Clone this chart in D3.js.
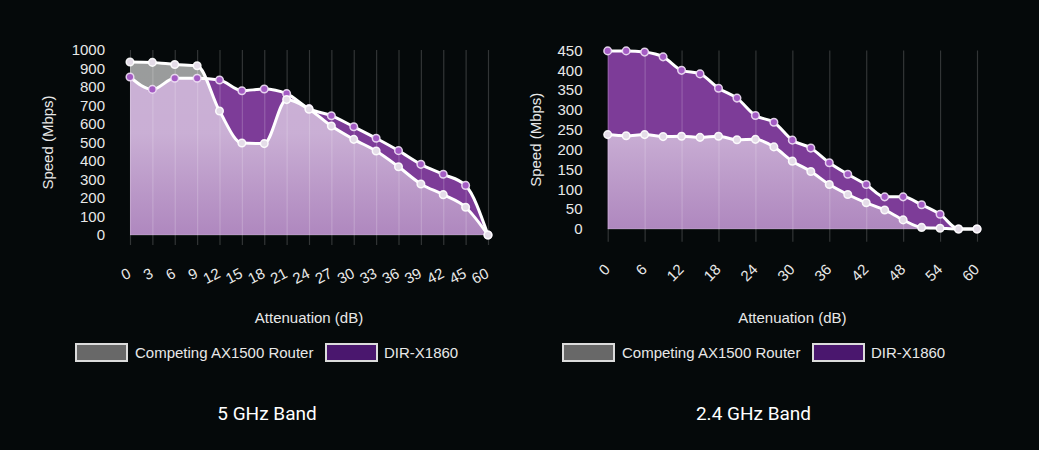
<!DOCTYPE html>
<html>
<head>
<meta charset="utf-8">
<script src="https://cdn.jsdelivr.net/npm/d3@7"></script>
<style>
    html, body { margin: 0; padding: 0; background: #05090a; }
    svg { display: block; }
    .tick text { fill: #e8e8e8; font-family: "Liberation Sans", Arial, sans-serif; font-size: 15px; }
    .axis-title, .legend-text { fill: #e8e8e8; font-family: "Liberation Sans", Arial, sans-serif; font-size: 15px; }
    .band-title { fill: #ffffff; font-family: Roboto, "Noto Sans", sans-serif; font-size: 19px; }
</style>
</head>
<body>
<div id="chart"></div>
<script>
// ---- data ----
const labels5 = ['0', '3', '6', '9', '12', '15', '18', '21', '24', '27', '30', '33', '36', '39', '42', '45', '60'];
const dir5 = [854, 787, 847, 847, 838, 780, 789, 764, 683, 645, 585, 523, 456, 382, 328, 268, 0];
const comp5 = [935, 933, 922, 915, 670, 497, 494, 732, 680, 589, 517, 454, 369, 276, 218, 150, 0];
const yTicks5 = [0, 100, 200, 300, 400, 500, 600, 700, 800, 900, 1000];

const labels24 = ['0', '3', '6', '9', '12', '15', '18', '21', '24', '27', '30', '33', '36', '39', '42', '45', '48', '51', '54', '57', '60'];
const dir24 = [449, 449, 446, 434, 400, 391, 355, 330, 286, 269, 224, 204, 167, 138, 112, 81, 81, 61, 37, 0, 0];
const comp24 = [238, 235, 238, 233, 234, 231, 234, 225, 226, 207, 171, 145, 112, 87, 66, 48, 23, 4, 2, 0, 0];
const yTicks24 = [0, 50, 100, 150, 200, 250, 300, 350, 400, 450];
const shown24 = labels24.filter((d, i) => i % 2 === 0);

const seriesNames = ['Competing AX1500 Router', 'DIR-X1860'];

const svg = d3.select('#chart').append('svg')
    .attr('width', 1039)
    .attr('height', 450);

const defs = svg.append('defs');

/**
 * Draw one band panel
 */
function drawBand(cfg) {
    const x = d3.scalePoint().domain(cfg.labels).range([cfg.left, cfg.right]);
    const y = d3.scaleLinear().domain([0, cfg.yMax]).range([cfg.bottom, cfg.top]);
    const g = svg.append('g');

    // white overlay gradient for the competing fill
    const gradId = 'fade-' + cfg.id;
    const grad = defs.append('linearGradient')
        .attr('id', gradId)
        .attr('gradientUnits', 'userSpaceOnUse')
        .attr('x1', 0).attr('x2', 0)
        .attr('y1', cfg.top).attr('y2', cfg.bottom);
    grad.append('stop').attr('offset', '0%').attr('stop-color', '#fff').attr('stop-opacity', 0.6);
    grad.append('stop').attr('offset', '45%').attr('stop-color', '#fff').attr('stop-opacity', 0.59);
    grad.append('stop').attr('offset', '100%').attr('stop-color', '#f4f0f4').attr('stop-opacity', 0.42);

    const curve = d3.curveMonotoneX;
    const area = d3.area()
        .x((d, i) => x(cfg.labels[i]))
        .y0(y(0))
        .y1(d => y(d))
        .curve(curve);
    const line = d3.line()
        .x((d, i) => x(cfg.labels[i]))
        .y(d => y(d))
        .curve(curve);

    // DIR-X1860 series
    g.append('path').datum(cfg.dir)
        .attr('d', area)
        .attr('fill', '#7d3c98');

    // competing series fill (translucent white)
    g.append('path').datum(cfg.comp)
        .attr('d', area)
        .attr('fill', `url(#${gradId})`);

    // vertical grid lines
    const xAxis = d3.axisBottom(x)
        .tickValues(cfg.shown)
        .tickSize(-(cfg.gridBottom - cfg.top))
        .tickPadding(0);
    const xg = g.append('g')
        .attr('transform', `translate(0,${cfg.gridBottom})`)
        .call(xAxis);
    xg.select('.domain').remove();
    xg.selectAll('.tick line')
        .attr('stroke', 'rgba(255,255,255,0.18)')
        .attr('stroke-width', 1.2);
    xg.selectAll('.tick text')
        .attr('x', 0).attr('y', 0).attr('dy', '0.35em')
        .attr('text-anchor', 'end')
        .attr('transform', `translate(-1,${cfg.labelDy}) rotate(${cfg.rotate})`);

    // baseline
    g.append('line')
        .attr('x1', cfg.left).attr('x2', cfg.right)
        .attr('y1', y(0)).attr('y2', y(0))
        .attr('stroke', 'rgba(255,255,255,0.22)');

    // lines and points: DIR first, competing on top
    g.append('path').datum(cfg.dir)
        .attr('d', line)
        .attr('fill', 'none')
        .attr('stroke', '#fff')
        .attr('stroke-width', 3);
    g.append('g').selectAll('circle')
        .data(cfg.dir)
        .enter().append('circle')
        .attr('cx', (d, i) => x(cfg.labels[i]))
        .attr('cy', d => y(d))
        .attr('r', 3.8)
        .attr('fill', '#a45cc4')
        .attr('stroke', 'rgba(240,225,245,0.9)')
        .attr('stroke-width', 1.5);

    g.append('path').datum(cfg.comp)
        .attr('d', line)
        .attr('fill', 'none')
        .attr('stroke', '#fff')
        .attr('stroke-width', 3);
    g.append('g').selectAll('circle')
        .data(cfg.comp)
        .enter().append('circle')
        .attr('cx', (d, i) => x(cfg.labels[i]))
        .attr('cy', d => y(d))
        .attr('r', 3.8)
        .attr('fill', '#e4dce8')
        .attr('stroke', 'rgba(255,255,255,0.9)')
        .attr('stroke-width', 1.5);

    // y axis labels
    const yg = g.append('g')
        .attr('transform', `translate(${cfg.yLabelX},0)`)
        .call(d3.axisLeft(y).tickValues(cfg.yTicks).tickFormat(d3.format('d')).tickSize(0).tickPadding(0));
    yg.select('.domain').remove();

    // axis titles
    g.append('text')
        .attr('class', 'axis-title')
        .attr('transform', `translate(${cfg.yTitleX},${(cfg.top + cfg.bottom) / 2}) rotate(-90)`)
        .attr('text-anchor', 'middle')
        .attr('dy', '0.35em')
        .text('Speed (Mbps)');
    g.append('text')
        .attr('class', 'axis-title')
        .attr('x', (cfg.left + cfg.right) / 2)
        .attr('y', 318)
        .attr('text-anchor', 'middle')
        .attr('dy', '0.35em')
        .text('Attenuation (dB)');

    // legend
    const lg = g.append('g').attr('transform', `translate(${cfg.legendX},344)`);
    lg.append('rect')
        .attr('x', 0).attr('y', 0).attr('width', 51).attr('height', 17)
        .attr('fill', '#686868').attr('stroke', '#dcdcdc').attr('stroke-width', 2);
    lg.append('text').attr('class', 'legend-text')
        .attr('x', 59).attr('y', 8.5).attr('dy', '0.35em')
        .text(seriesNames[0]);
    lg.append('rect')
        .attr('x', 250).attr('y', 0).attr('width', 51).attr('height', 17)
        .attr('fill', '#4a176e').attr('stroke', '#dcdcdc').attr('stroke-width', 2);
    lg.append('text').attr('class', 'legend-text')
        .attr('x', 308).attr('y', 8.5).attr('dy', '0.35em')
        .text(seriesNames[1]);

    // band title
    g.append('text')
        .attr('class', 'band-title')
        .attr('x', cfg.titleX)
        .attr('y', 413)
        .attr('text-anchor', 'middle')
        .attr('dy', '0.35em')
        .text(cfg.title);
}

drawBand({
    id: 'b5', title: '5 GHz Band',
    labels: labels5, shown: labels5, dir: dir5, comp: comp5,
    yMax: 1000, yTicks: yTicks5,
    left: 130, right: 488, top: 50, bottom: 235, gridBottom: 245,
    labelDy: 27, rotate: -27,
    yLabelX: 105, yTitleX: 48,
    legendX: 76, titleX: 267
});

drawBand({
    id: 'b24', title: '2.4 GHz Band',
    labels: labels24, shown: shown24, dir: dir24, comp: comp24,
    yMax: 450, yTicks: yTicks24,
    left: 607.7, right: 977, top: 50.5, bottom: 229, gridBottom: 241.7,
    labelDy: 25, rotate: -45,
    yLabelX: 582.5, yTitleX: 536,
    legendX: 563, titleX: 753.5
});
</script>
</body>
</html>
